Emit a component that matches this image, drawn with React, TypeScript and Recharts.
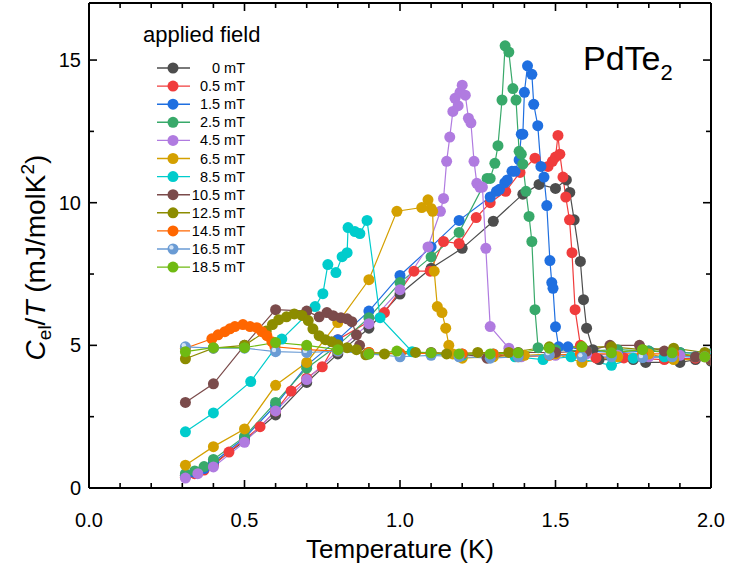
import React from 'react';
import { LineChart, Line, XAxis, YAxis, Legend, Label } from 'recharts';

const FONT = '"Liberation Sans", Arial, Helvetica, sans-serif';

const fieldLabels = ['0 mT', '0.5 mT', '1.5 mT', '2.5 mT', '4.5 mT', '6.5 mT', '8.5 mT', '10.5 mT', '12.5 mT', '14.5 mT', '16.5 mT', '18.5 mT'];
const colors = ['#4d4d4d', '#f03c3c', '#1f6fe0', '#38a96a', '#b07be0', '#d4a000', '#00cccc', '#7b4b4b', '#8c8c00', '#ff6600', '#6a9bd4', '#6fba12'];

// [T (K), Cel/T (mJ/molK^2)]
const f0: number[][] = [[0.31,0.45],[0.34,0.55],[0.37,0.68],[0.40,0.85],[0.50,1.65],[0.60,2.56],[0.70,3.7],[0.80,4.7],[0.90,5.6],[1.00,6.8],[1.10,7.7],[1.20,8.4],[1.30,9.35],[1.395,10.3],[1.447,10.64],[1.50,10.5],[1.535,10.8],[1.546,10.36],[1.56,9.4],[1.58,7.94],[1.59,6.6],[1.60,5.6],[1.62,4.85],[1.64,4.5],[1.75,4.5],[1.79,4.4],[1.90,4.4],[1.95,4.5],[2.0,4.45]];
const f05: number[][] = [[0.31,0.38],[0.34,0.5],[0.37,0.63],[0.40,0.8],[0.45,1.26],[0.50,1.7],[0.55,2.15],[0.60,2.7],[0.65,3.4],[0.70,3.85],[0.75,4.25],[0.80,5.2],[0.95,6.15],[1.045,7.6],[1.097,7.6],[1.14,8.64],[1.19,8.57],[1.245,9.48],[1.29,10.0],[1.34,10.4],[1.386,11.06],[1.434,11.56],[1.476,11.27],[1.49,11.45],[1.50,11.6],[1.508,12.36],[1.514,11.7],[1.524,10.9],[1.533,10.2],[1.545,9.4],[1.553,8.25],[1.563,6.25],[1.58,5.0],[1.63,4.56],[1.72,4.56],[1.85,4.5],[1.95,4.55],[2.0,4.5]];
const f15: number[][] = [[0.31,0.42],[0.34,0.55],[0.37,0.68],[0.40,0.9],[0.50,1.75],[0.60,2.9],[0.70,4.3],[0.80,5.2],[0.90,6.2],[1.00,7.45],[1.10,8.45],[1.19,9.38],[1.29,10.2],[1.31,10.4],[1.32,10.47],[1.337,10.7],[1.345,10.8],[1.36,11.1],[1.37,11.1],[1.383,11.5],[1.39,12.4],[1.395,12.4],[1.40,13.87],[1.41,14.8],[1.424,14.5],[1.43,13.45],[1.443,12.7],[1.453,11.27],[1.463,10.9],[1.472,9.9],[1.482,7.97],[1.488,7.2],[1.492,7.0],[1.50,5.65],[1.51,4.95],[1.54,4.95],[1.60,4.8],[1.70,4.75],[1.80,4.8],[1.90,4.75],[2.0,4.7]];
const f25: number[][] = [[0.31,0.5],[0.34,0.6],[0.37,0.75],[0.40,1.0],[0.50,1.8],[0.60,3.0],[0.70,4.2],[0.80,5.0],[0.90,5.97],[1.00,7.2],[1.10,8.1],[1.19,8.96],[1.28,10.85],[1.29,10.85],[1.305,11.38],[1.315,12.0],[1.328,13.6],[1.338,15.5],[1.35,15.28],[1.363,14.0],[1.373,13.6],[1.383,11.8],[1.39,11.7],[1.395,11.35],[1.405,10.4],[1.415,9.52],[1.424,8.64],[1.434,6.25],[1.444,4.92],[1.50,4.85],[1.60,4.8],[1.70,4.85],[1.80,4.8],[1.90,4.75],[2.0,4.7]];
const f45: number[][] = [[0.31,0.35],[0.35,0.5],[0.40,0.74],[0.50,1.6],[0.60,2.7],[0.70,3.8],[0.80,4.8],[0.90,5.76],[1.00,6.95],[1.09,8.45],[1.13,9.7],[1.14,10.15],[1.15,11.45],[1.16,12.3],[1.17,13.2],[1.177,13.66],[1.187,13.4],[1.193,13.87],[1.20,14.12],[1.21,13.77],[1.22,12.96],[1.228,12.8],[1.238,11.45],[1.247,10.68],[1.257,10.54],[1.265,10.55],[1.276,8.4],[1.29,5.66],[1.35,4.9],[1.39,4.6],[1.50,4.65],[1.60,4.7],[1.70,4.65],[1.80,4.6],[1.90,4.65],[2.0,4.6]];
const f65: number[][] = [[0.31,0.8],[0.40,1.45],[0.50,2.07],[0.60,3.6],[0.70,4.4],[0.80,5.8],[0.90,7.3],[0.99,9.7],[1.07,9.83],[1.09,10.1],[1.10,9.8],[1.105,9.7],[1.11,7.6],[1.12,6.36],[1.135,6.15],[1.147,5.6],[1.157,5.0],[1.17,4.7],[1.20,4.55],[1.30,4.6],[1.40,4.65],[1.50,4.7],[1.585,4.4],[1.70,4.6],[1.80,4.7],[1.88,4.5],[2.0,4.5]];
const f85: number[][] = [[0.31,1.97],[0.40,2.63],[0.52,3.73],[0.62,5.22],[0.727,6.36],[0.752,6.81],[0.768,7.83],[0.794,7.55],[0.814,8.11],[0.83,8.25],[0.833,9.13],[0.855,8.99],[0.871,8.92],[0.894,9.38],[0.936,5.97],[1.039,4.78],[1.10,4.7],[1.20,4.65],[1.30,4.7],[1.37,4.6],[1.46,4.5],[1.55,4.6],[1.68,4.3],[1.75,4.55],[1.85,4.6],[1.95,4.6],[2.0,4.55]];
const f105: number[][] = [[0.31,3.0],[0.40,3.65],[0.50,5.0],[0.60,6.25],[0.70,6.2],[0.74,6.0],[0.765,6.15],[0.785,6.04],[0.81,5.97],[0.83,5.93],[0.845,5.83],[0.86,5.37],[0.87,5.0],[0.90,4.75],[1.00,4.7],[1.10,4.75],[1.20,4.7],[1.28,4.55],[1.38,4.75],[1.50,4.75],[1.60,4.8],[1.675,5.0],[1.77,5.0],[1.85,4.8],[1.95,4.6],[2.0,4.5]];
const f125: number[][] = [[0.31,4.53],[0.40,4.9],[0.50,5.0],[0.57,5.5],[0.59,5.73],[0.61,5.9],[0.635,6.0],[0.66,6.1],[0.685,6.05],[0.705,5.87],[0.72,5.58],[0.74,5.34],[0.76,5.2],[0.78,5.13],[0.80,5.02],[0.83,4.92],[0.86,4.85],[0.89,4.67],[0.95,4.7],[1.05,4.75],[1.15,4.7],[1.25,4.75],[1.35,4.75],[1.48,4.95],[1.585,4.95],[1.68,4.95],[1.78,4.85],[1.88,4.9],[1.98,4.75]];
const f145: number[][] = [[0.31,4.9],[0.395,5.23],[0.415,5.37],[0.437,5.48],[0.453,5.58],[0.469,5.66],[0.495,5.73],[0.518,5.66],[0.54,5.62],[0.556,5.48],[0.572,5.34],[0.588,5.13],[0.598,4.95],[0.70,4.85],[0.80,4.8],[0.90,4.75],[1.00,4.72],[1.10,4.72],[1.20,4.7],[1.30,4.7],[1.38,4.6],[1.48,4.65],[1.58,4.7],[1.68,4.7],[1.78,4.7],[1.88,4.7],[1.98,4.6]];
const f165: number[][] = [[0.31,4.95],[0.40,4.9],[0.50,4.9],[0.60,4.78],[0.70,4.75],[0.80,4.8],[0.90,4.7],[1.00,4.6],[1.10,4.65],[1.19,4.6],[1.29,4.55],[1.38,4.6],[1.48,4.67],[1.585,4.6],[1.68,4.6],[1.78,4.57],[1.875,4.6],[1.98,4.6]];
const f185: number[][] = [[0.31,4.78],[0.40,4.92],[0.50,4.92],[0.60,5.1],[0.70,5.0],[0.80,4.85],[0.90,4.7],[0.99,4.8],[1.10,4.74],[1.19,4.7],[1.29,4.7],[1.38,4.74],[1.48,4.9],[1.585,4.95],[1.68,4.74],[1.78,4.85],[1.875,4.74],[1.98,4.6]];

const seriesPoints = [f0, f05, f15, f25, f45, f65, f85, f105, f125, f145, f165, f185];

const xTicks = [0, 0.1, 0.2, 0.3, 0.4, 0.5, 0.6, 0.7, 0.8, 0.9, 1.0, 1.1, 1.2, 1.3, 1.4, 1.5, 1.6, 1.7, 1.8, 1.9, 2.0];
const yTicks = [0, 2.5, 5, 7.5, 10, 12.5, 15];

const series = seriesPoints.map((pts, i) => ({
  name: fieldLabels[i],
  color: colors[i],
  data: pts.map(([t, c]) => ({ t, c })),
}));

const isMajorX = (v: number) => Math.abs(v * 2 - Math.round(v * 2)) < 1e-6;
const isMajorY = (v: number) => Math.abs(v / 5 - Math.round(v / 5)) < 1e-6;

const BottomTick = (props: any) => {
  const { x, y, payload } = props;
  const v = payload.value;
  const major = isMajorX(v);
  return (
    <g>
      <line x1={x} x2={x} y1={y} y2={y - (major ? 8 : 5)} stroke="#000" strokeWidth={1.6} />
      {major && (
        <text x={x} y={y + 39} textAnchor="middle" fontSize={20} fontFamily={FONT} fill="#000">
          {v.toFixed(1)}
        </text>
      )}
    </g>
  );
};
const TopTick = (props: any) => {
  const { x, y, payload } = props;
  const major = isMajorX(payload.value);
  return <line x1={x} x2={x} y1={y} y2={y + (major ? 8 : 5)} stroke="#000" strokeWidth={1.6} />;
};
const LeftTick = (props: any) => {
  const { x, y, payload } = props;
  const v = payload.value;
  const major = isMajorY(v);
  return (
    <g>
      <line x1={x} x2={x + (major ? 8 : 5)} y1={y} y2={y} stroke="#000" strokeWidth={1.6} />
      {major && (
        <text x={x - 8} y={y + 7} textAnchor="end" fontSize={20} fontFamily={FONT} fill="#000">
          {v}
        </text>
      )}
    </g>
  );
};
const RightTick = (props: any) => {
  const { x, y, payload } = props;
  const major = isMajorY(payload.value);
  return <line x1={x} x2={x - (major ? 8 : 5)} y1={y} y2={y} stroke="#000" strokeWidth={1.6} />;
};

const XTitle = (props: any) => {
  const vb = props.viewBox || { x: 89, y: 488, width: 622, height: 0 };
  return (
    <text x={vb.x + vb.width / 2} y={vb.y + 70} textAnchor="middle" fontSize={26} fontFamily={FONT} fill="#000">
      Temperature (K)
    </text>
  );
};
const YTitle = (props: any) => {
  const vb = props.viewBox || { x: 0, y: 3, width: 89, height: 485 };
  const cx = vb.x + 45;
  const cy = vb.y + vb.height / 2 + 12;
  return (
    <text transform={`translate(${cx},${cy}) rotate(-90)`} textAnchor="middle" fontSize={28} fontFamily={FONT} fill="#000">
      <tspan fontStyle="italic">C</tspan>
      <tspan fontSize={19} dy={6}>el</tspan>
      <tspan dy={-6}>/</tspan>
      <tspan fontStyle="italic">T</tspan>
      <tspan> (mJ/molK</tspan>
      <tspan fontSize={19} dy={-11}>2</tspan>
      <tspan dy={11}>)</tspan>
    </text>
  );
};

const SphereDot = (props: any) => {
  const { cx, cy, key } = props;
  if (cx == null || cy == null) return <g key={key} />;
  return (
    <g key={key}>
      <circle cx={cx} cy={cy} r={5.5} fill="#6a9bd4" />
      <circle cx={cx - 1.6} cy={cy - 1.6} r={2.2} fill="#e4eefa" opacity={0.85} />
    </g>
  );
};

const LegendContent = () => (
  <svg width={140} height={265} style={{ overflow: 'visible' }}>
    <text x={13} y={24} fontSize={22} fontFamily={FONT} fill="#000">applied field</text>
    {series.map((s, i) => {
      const cy = 50 + i * 18.1;
      return (
        <g key={s.name}>
          <line x1={27} x2={60} y1={cy} y2={cy} stroke={s.color} strokeWidth={1.4} />
          {i === 10 ? (
            <g>
              <circle cx={43} cy={cy} r={5.5} fill={s.color} />
              <circle cx={41.4} cy={cy - 1.6} r={2.2} fill="#e4eefa" opacity={0.85} />
            </g>
          ) : (
            <circle cx={43} cy={cy} r={5.5} fill={s.color} />
          )}
          <text x={115} y={cy + 5} textAnchor="end" fontSize={14.5} fontFamily={FONT} fill="#000">{s.name}</text>
        </g>
      );
    })}
  </svg>
);

export default function App() {
  return (
    <div style={{ position: 'absolute', left: 0, top: 0, width: 730, height: 572, background: '#fff' }}>
      <LineChart width={730} height={572} margin={{ top: 2, right: 18, bottom: 83, left: 0 }}>
        <XAxis
          xAxisId={0}
          dataKey="t"
          type="number"
          domain={[0, 2]}
          ticks={xTicks}
          interval={0}
          height={1}
          tickSize={0}
          tickMargin={0}
          tickLine={false}
          tick={<BottomTick />}
          axisLine={{ stroke: '#000', strokeWidth: 2 }}
          allowDataOverflow
        >
          <Label content={<XTitle />} />
        </XAxis>
        <XAxis
          xAxisId="top"
          orientation="top"
          dataKey="t"
          type="number"
          domain={[0, 2]}
          ticks={xTicks}
          interval={0}
          height={1}
          tickSize={0}
          tickMargin={0}
          tickLine={false}
          tick={<TopTick />}
          axisLine={{ stroke: '#000', strokeWidth: 2 }}
          allowDataOverflow
        />
        <YAxis
          yAxisId={0}
          type="number"
          domain={[0, 17]}
          ticks={yTicks}
          interval={0}
          width={89}
          tickSize={0}
          tickMargin={0}
          tickLine={false}
          tick={<LeftTick />}
          axisLine={{ stroke: '#000', strokeWidth: 2 }}
          allowDataOverflow
        >
          <Label content={<YTitle />} />
        </YAxis>
        <YAxis
          yAxisId="right"
          orientation="right"
          type="number"
          domain={[0, 17]}
          ticks={yTicks}
          interval={0}
          width={1}
          tickSize={0}
          tickMargin={0}
          tickLine={false}
          tick={<RightTick />}
          axisLine={{ stroke: '#000', strokeWidth: 2 }}
          allowDataOverflow
        />
        <Legend
          layout="vertical"
          align="center"
          verticalAlign="middle"
          content={<LegendContent />}
          wrapperStyle={{ left: 130, top: 18, width: 140, height: 265 }}
        />
        {series.map((s, i) => (
          <Line
            key={s.name}
            name={s.name}
            data={s.data}
            dataKey="c"
            xAxisId={0}
            yAxisId={0}
            type="linear"
            stroke={s.color}
            strokeWidth={1.2}
            dot={i === 10 ? <SphereDot /> : { r: 5.5, fill: s.color, stroke: 'none', strokeWidth: 0 }}
            activeDot={false}
            isAnimationActive={false}
          />
        ))}
      </LineChart>
      <div
        style={{
          position: 'absolute',
          left: 583,
          top: 38,
          fontFamily: FONT,
          fontSize: 34,
          color: '#000',
          lineHeight: '40px',
          whiteSpace: 'nowrap',
        }}
      >
        PdTe<sub style={{ fontSize: 22, verticalAlign: 'baseline', position: 'relative', top: 10 }}>2</sub>
      </div>
    </div>
  );
}
